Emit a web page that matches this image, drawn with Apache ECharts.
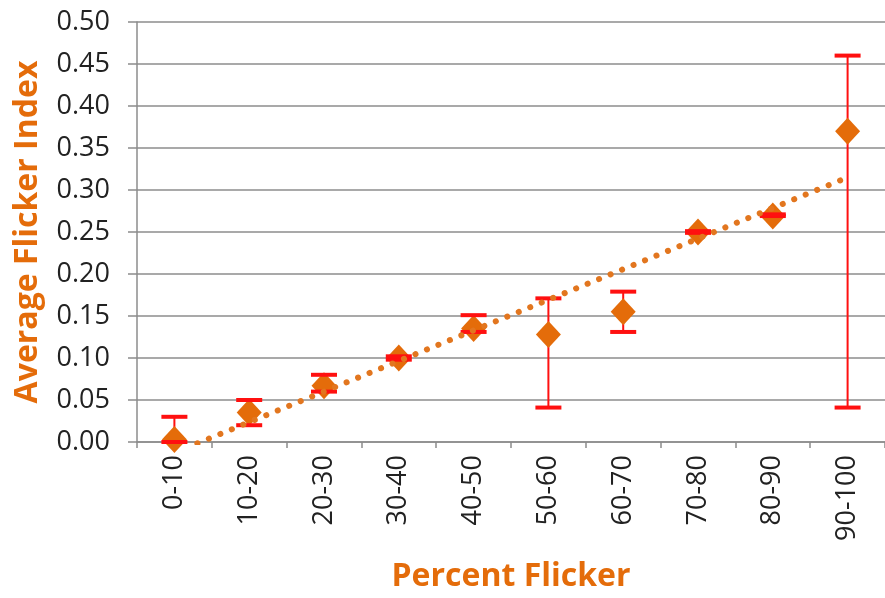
<!DOCTYPE html>
<html>
<head>
<meta charset="utf-8">
<script src="https://cdn.jsdelivr.net/npm/echarts@6/dist/echarts.min.js"></script>
<style>
  html, body { margin: 0; padding: 0; background: #fff; }
  #main { width: 885px; height: 598px; }
</style>
</head>
<body>
<div id="main"></div>
<script>
// categories on the x axis
const categories = ['0-10', '10-20', '20-30', '30-40', '40-50', '50-60', '60-70', '70-80', '80-90', '90-100']
// average flicker index (diamonds)
const avgIndex = [0.003, 0.035, 0.067, 0.100, 0.135, 0.128, 0.155, 0.250, 0.269, 0.370]
// error bar ends
const upperBar = [0.030, 0.050, 0.080, 0.102, 0.151, 0.171, 0.179, 0.251, 0.271, 0.460]
const lowerBar = [0.000, 0.020, 0.060, 0.098, 0.131, 0.041, 0.131, 0.249, 0.269, 0.041]
// linear trendline ends, read at the first and last category
const trendStart = -0.0128
const trendEnd = 0.315
// y ticks
const yTicks = [0, 0.05, 0.10, 0.15, 0.20, 0.25, 0.30, 0.35, 0.40, 0.45, 0.50]

const orange = '#E46C0A'
const red = '#FF1010'
const gray = '#8C8C8C'
const font = '"Open Sans", "DejaVu Sans", sans-serif'

const trendData = categories.map((c, i) => i === 0 ? trendStart : (i === categories.length - 1 ? trendEnd : null))
const barData = categories.map((c, i) => [i, lowerBar[i], upperBar[i]])

var myChart = echarts.init(document.getElementById('main'), null, { renderer: 'canvas' })

myChart.setOption({
  animation: false,
  backgroundColor: '#fff',
  grid: { left: 137, top: 22, width: 760, height: 421, containLabel: false },
  xAxis: {
    type: 'category',
    data: categories,
    boundaryGap: true,
    name: 'Percent Flicker',
    nameLocation: 'middle',
    nameGap: 119,
    nameTextStyle: { color: orange, fontSize: 32, fontWeight: 'bold', fontFamily: font },
    axisLine: { lineStyle: { color: gray, width: 1.5 } },
    axisTick: { show: true, length: 6, lineStyle: { color: gray, width: 1.5 } },
    axisLabel: { rotate: 90, margin: 13, fontSize: 27, color: '#222', fontFamily: font }
  },
  yAxis: {
    type: 'value',
    min: yTicks[0],
    max: yTicks[yTicks.length - 1],
    interval: 0.05,
    name: 'Average Flicker Index',
    nameLocation: 'middle',
    nameRotate: 90,
    nameGap: 93,
    nameTextStyle: { color: orange, fontSize: 32, fontWeight: 'bold', fontFamily: font },
    axisLine: { show: true, lineStyle: { color: gray, width: 1.5 } },
    axisTick: { show: true, length: 9, lineStyle: { color: gray, width: 1.5 } },
    splitLine: { show: true, lineStyle: { color: gray, width: 1.5 } },
    axisLabel: {
      margin: 27, fontSize: 27, color: '#222', fontFamily: font,
      formatter: v => v.toFixed(2)
    }
  },
  series: [
    {
      // error bar stems, under the diamonds
      type: 'custom',
      z: 2,
      data: barData,
      renderItem: (params, api) => {
        const i = api.value(0)
        const lo = api.coord([i, api.value(1)])
        const hi = api.coord([i, api.value(2)])
        return {
          type: 'line',
          shape: { x1: lo[0], y1: lo[1], x2: hi[0], y2: hi[1] },
          style: { stroke: red, lineWidth: 2 }
        }
      }
    },
    {
      type: 'scatter',
      z: 3,
      data: avgIndex,
      symbol: 'diamond',
      symbolSize: [25, 27],
      itemStyle: { color: orange, opacity: 1 }
    },
    {
      // caps drawn above the diamonds
      type: 'custom',
      z: 4,
      data: barData,
      renderItem: (params, api) => {
        const i = api.value(0)
        const lo = api.coord([i, api.value(1)])
        const hi = api.coord([i, api.value(2)])
        const w = 13
        return {
          type: 'group',
          children: [
            { type: 'line', shape: { x1: lo[0] - w, y1: lo[1], x2: lo[0] + w, y2: lo[1] }, style: { stroke: red, lineWidth: 4 } },
            { type: 'line', shape: { x1: hi[0] - w, y1: hi[1], x2: hi[0] + w, y2: hi[1] }, style: { stroke: red, lineWidth: 4 } }
          ]
        }
      }
    },
    {
      type: 'line',
      z: 5,
      data: trendData,
      connectNulls: true,
      showSymbol: false,
      clip: true,
      lineStyle: { color: '#E2761F', width: 6, type: [0.1, 12.3], cap: 'round' }
    }
  ]
})
</script>
</body>
</html>
